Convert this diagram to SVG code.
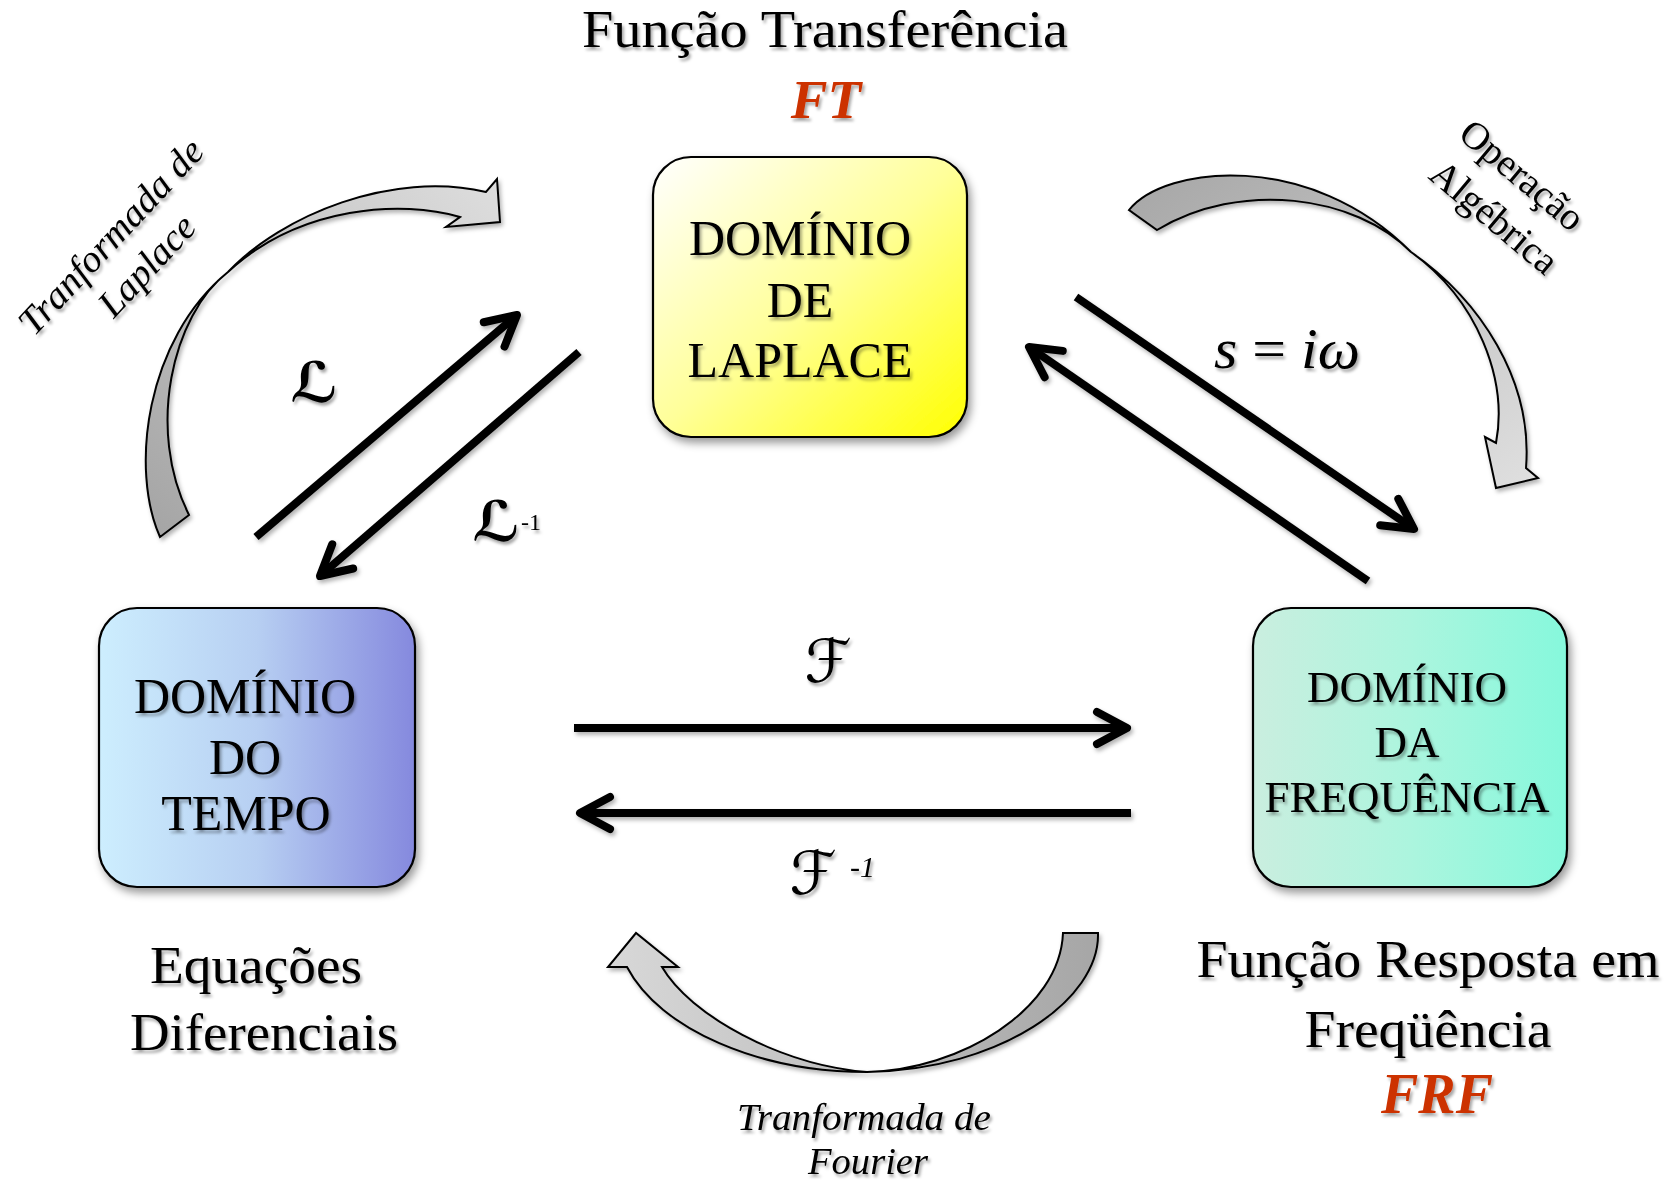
<svg xmlns="http://www.w3.org/2000/svg" width="1673" height="1182" viewBox="0 0 1673 1182">
<defs>
  <style>
    .serif { font-family: "Liberation Serif", "Times New Roman", serif; fill: #000; }
    .box { stroke: #000; stroke-width: 2.2; }
    .boxtext { font-size: 50px; text-anchor: middle; }
    .outer { font-size: 52px; text-anchor: middle; }
    .red { font-weight: bold; font-style: italic; fill: #cc3300; text-anchor: middle; }
    .lbl { font-size: 38px; font-style: italic; text-anchor: middle; }
    .conn { fill: none; stroke: #000; stroke-width: 8; stroke-linecap: butt; }
    .curved { stroke: #000; stroke-width: 2; stroke-linejoin: miter; }
    .sym { font-family: "DejaVu Serif", "DejaVu Sans", serif; fill: #000; text-anchor: middle; }
  </style>
  <filter id="tshadow" x="-10%" y="-20%" width="130%" height="150%">
    <feDropShadow dx="2" dy="3" stdDeviation="1.8" flood-color="#000" flood-opacity="0.35"/>
  </filter>
  <filter id="bshadow" x="-10%" y="-10%" width="130%" height="130%">
    <feDropShadow dx="3" dy="5" stdDeviation="4" flood-color="#000" flood-opacity="0.4"/>
  </filter>
  <filter id="lshadow" x="-10%" y="-10%" width="130%" height="130%">
    <feDropShadow dx="2" dy="3" stdDeviation="2" flood-color="#000" flood-opacity="0.3"/>
  </filter>
  <linearGradient id="gLap" x1="0" y1="0" x2="1" y2="1">
    <stop offset="0" stop-color="#ffffff"/>
    <stop offset="0.5" stop-color="#ffff99"/>
    <stop offset="1" stop-color="#ffff00"/>
  </linearGradient>
  <linearGradient id="gTime" x1="0" y1="0" x2="1" y2="0">
    <stop offset="0" stop-color="#cdeefe"/>
    <stop offset="0.5" stop-color="#b7cff2"/>
    <stop offset="1" stop-color="#8589de"/>
  </linearGradient>
  <linearGradient id="gFreq" x1="0" y1="0" x2="1" y2="0">
    <stop offset="0" stop-color="#caeedf"/>
    <stop offset="0.5" stop-color="#acf5de"/>
    <stop offset="1" stop-color="#86f8dc"/>
  </linearGradient>
  <linearGradient id="gArrL" x1="0" y1="1" x2="1" y2="0">
    <stop offset="0" stop-color="#a4a4a4"/>
    <stop offset="1" stop-color="#dedede"/>
  </linearGradient>
  <linearGradient id="gArrR" x1="0" y1="0" x2="1" y2="1">
    <stop offset="0" stop-color="#a6a6a6"/>
    <stop offset="1" stop-color="#e0e0e0"/>
  </linearGradient>
  <linearGradient id="gArrB" x1="1" y1="0" x2="0" y2="0">
    <stop offset="0" stop-color="#a6a6a6"/>
    <stop offset="1" stop-color="#d8d8d8"/>
  </linearGradient>
  <marker id="chev" markerUnits="userSpaceOnUse" orient="auto" refX="0" refY="0" markerWidth="80" markerHeight="80" viewBox="-40 -40 80 80" overflow="visible">
    <path d="M -30,-16 L 0,0 L -30,16" fill="none" stroke="#000" stroke-width="8" stroke-linecap="round" stroke-linejoin="round"/>
  </marker>
</defs>

<rect width="1673" height="1182" fill="#fff"/>

<!-- curved gray arrows -->
<g id="curved-arrows" filter="url(#lshadow)">
  <path id="arrow-laplace" class="curved" fill="url(#gArrL)" d="M 160,537 C 130,470 145,340 228,272 C 282,215 392,170 486,192 L 497,179 L 500,222 L 446,227 L 460,217 C 403,200 300,205 228,272 C 172,315 146,430 189,515 Z"/>
  <path id="arrow-algebra" class="curved" fill="url(#gArrR)" d="M 1129,210 C 1165,165 1310,150 1411,252 C 1480,300 1533,380 1526,468 L 1538,478 L 1496,488 L 1485,437 L 1496,443 C 1508,380 1478,300 1411,252 C 1355,195 1240,180 1157,230 Z"/>
  <path id="arrow-fourier" class="curved" fill="url(#gArrB)" d="M 1063,933 L 1098,933 C 1100,1000 1000,1070 867,1072 C 760,1072 660,1030 627,967 L 608,967 L 636,933 L 678,967 L 662,967 C 690,1015 780,1065 867,1072 C 960,1070 1060,1010 1063,933 Z"/>
</g>

<!-- connectors -->
<g id="connectors" filter="url(#lshadow)">
  <path class="conn" d="M 256,537 L 517,315" marker-end="url(#chev)"/>
  <path class="conn" d="M 579,352 L 320,576" marker-end="url(#chev)"/>
  <path class="conn" d="M 1076,297 L 1414,529" marker-end="url(#chev)"/>
  <path class="conn" d="M 1368,581 L 1029,347" marker-end="url(#chev)"/>
  <path class="conn" d="M 574,728 L 1127,728" marker-end="url(#chev)"/>
  <path class="conn" d="M 1131,813 L 580,813" marker-end="url(#chev)"/>
</g>

<!-- nodes -->
<g id="node-laplace">
  <rect class="box" x="653" y="157" width="314" height="280" rx="38" fill="url(#gLap)" filter="url(#bshadow)"/>
  <g filter="url(#tshadow)">
    <text class="serif boxtext" x="800" y="255">DOMÍNIO</text>
    <text class="serif boxtext" x="800" y="317">DE</text>
    <text class="serif boxtext" x="800" y="377">LAPLACE</text>
  </g>
</g>

<g id="node-tempo">
  <rect class="box" x="99" y="608" width="316" height="279" rx="38" fill="url(#gTime)" filter="url(#bshadow)"/>
  <g filter="url(#tshadow)">
    <text class="serif boxtext" x="245" y="713">DOMÍNIO</text>
    <text class="serif boxtext" x="245" y="774">DO</text>
    <text class="serif boxtext" x="246" y="830">TEMPO</text>
  </g>
</g>

<g id="node-frequencia">
  <rect class="box" x="1253" y="608" width="314" height="279" rx="38" fill="url(#gFreq)" filter="url(#bshadow)"/>
  <g filter="url(#tshadow)">
    <text class="serif boxtext" x="1407" y="702" style="font-size:45px">DOMÍNIO</text>
    <text class="serif boxtext" x="1407" y="757" style="font-size:45px">DA</text>
    <text class="serif boxtext" x="1407" y="812" style="font-size:45px">FREQUÊNCIA</text>
  </g>
</g>

<!-- outer texts -->
<g id="titles" filter="url(#tshadow)">
  <text class="serif outer" x="825" y="47" textLength="486" lengthAdjust="spacingAndGlyphs">Função Transferência</text>
  <text class="serif red" x="826" y="118" style="font-size:55px">FT</text>
  <text class="serif outer" x="256" y="983" textLength="212" lengthAdjust="spacingAndGlyphs">Equações</text>
  <text class="serif outer" x="264" y="1050" textLength="268" lengthAdjust="spacingAndGlyphs">Diferenciais</text>
  <text class="serif outer" x="1428" y="977" textLength="463" lengthAdjust="spacingAndGlyphs">Função Resposta em</text>
  <text class="serif outer" x="1428" y="1047" textLength="247" lengthAdjust="spacingAndGlyphs">Freqüência</text>
  <text class="serif red" x="1437" y="1113" style="font-size:56px">FRF</text>
</g>

<!-- connector labels -->
<g id="labels" filter="url(#tshadow)">
  <text class="serif lbl" transform="translate(120,245) rotate(-47)" textLength="252" lengthAdjust="spacingAndGlyphs">Tranformada de</text>
  <text class="serif lbl" transform="translate(156,274) rotate(-47)" textLength="124" lengthAdjust="spacingAndGlyphs">Laplace</text>
  <text class="serif lbl" style="font-style:normal;font-size:39px" transform="translate(1514,185) rotate(40)">Operação</text>
  <text class="serif lbl" style="font-style:normal;font-size:39px" transform="translate(1486,227) rotate(40)">Algébrica</text>
  <text class="serif lbl" x="864" y="1130" textLength="254" lengthAdjust="spacingAndGlyphs">Tranformada de</text>
  <text class="serif lbl" x="868" y="1174" textLength="120" lengthAdjust="spacingAndGlyphs">Fourier</text>
  <text class="sym" x="314" y="402" style="font-size:56px;font-weight:bold;font-style:italic">ℒ</text>
  <text class="sym" x="496" y="541" style="font-size:56px;font-weight:bold;font-style:italic">ℒ</text>
  <text class="serif" x="521" y="530" style="font-size:24px">-1</text>
  <text class="sym" x="828" y="682" style="font-size:60px;font-style:italic">ℱ</text>
  <text class="sym" x="813" y="894" style="font-size:60px;font-style:italic">ℱ</text>
  <text class="serif" x="850" y="877" style="font-size:30px;font-style:italic">-1</text>
  <text class="serif" x="1214" y="368" style="font-size:57px" textLength="146" lengthAdjust="spacingAndGlyphs"><tspan font-style="italic">s</tspan> = <tspan font-style="italic">iω</tspan></text>
</g>
</svg>
